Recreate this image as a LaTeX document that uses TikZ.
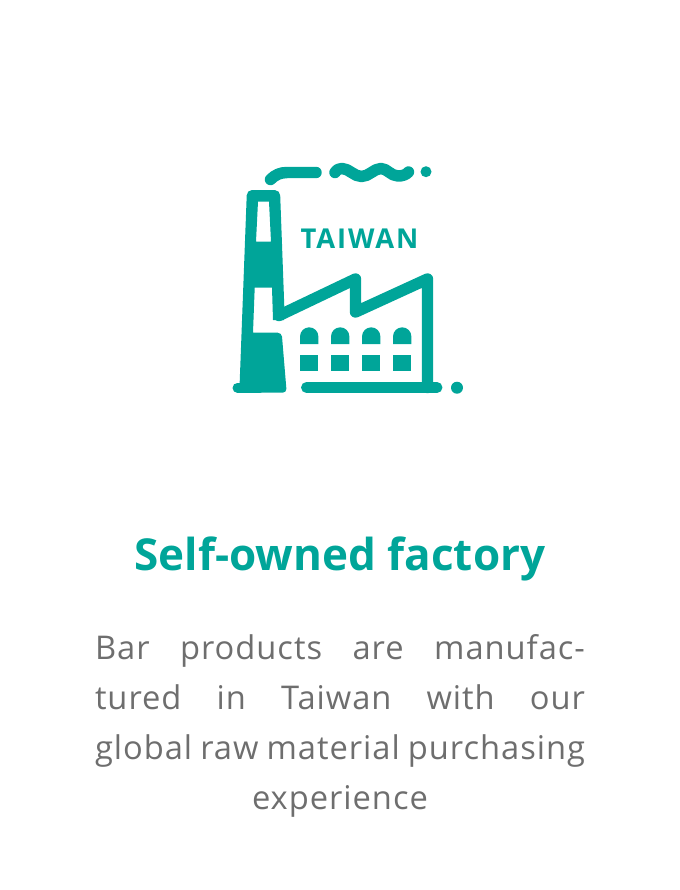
\documentclass[tikz,border=0pt]{standalone}
\usepackage{fontspec}
\usepackage{xcolor}
\setmainfont{Open Sans}
\newfontfamily\bodyfont[LetterSpace=3]{Open Sans}
\newfontfamily\badgefont[LetterSpace=7]{Open Sans}
\definecolor{factoryteal}{HTML}{00A599}
\definecolor{bodygray}{HTML}{6E6E6E}
\begin{document}
\begin{tikzpicture}[
    x=0.75pt,
    y=-0.75pt,
    solid/.style={fill=factoryteal, draw=none},
    stroke/.style={draw=factoryteal, line width=8.6pt, line cap=round, line join=round},
    label/.style={inner sep=0pt, text=factoryteal, font=\bfseries}
]
\useasboundingbox (0,0) rectangle (680,890);

% chimney
\fill[solid, even odd rule]
    (246.7,196) [rounded corners=4pt] -- (246.7,190) -- (280,190) [sharp corners] -- (284.3,306.7) -- (284,320) -- (273,320)
    -- (272,287.7) -- (254.7,287.7) -- (253,332.7) [rounded corners=3pt] -- (281.7,332.7) -- (286.7,392.7) [sharp corners] -- (239.3,392.7) -- cycle
    (258,201.7) -- (269,201.7) -- (271,241.7) -- (256,241.7) -- cycle;
\draw[stroke, line width=7.5pt] (237.5,387.7) -- (260,387.7);

% roof and wall
\draw[stroke] (279,315.5) -- (355.5,279) -- (355.5,312) -- (427.5,279) -- (427.5,387.5);
\draw[stroke, line width=8.2pt] (306.5,387.5) -- (437,387.5);
\fill[solid] (457,387.7) circle (6);

% windows
\foreach \xpos in {300,331,362,393} {
    \fill[solid] (\xpos,344) -- (\xpos,336.5) arc[start angle=180, end angle=360, radius=9.2] -- (\xpos+18.4,344) -- cycle;
    \fill[solid] (\xpos,355) rectangle (\xpos+18.4,371.3);
}

% smoke
\draw[stroke] (270.5,179.5) .. controls (275,175) and (280,172.5) .. (287,172.5) -- (316,172.5);
\draw[stroke] (335,172.5) .. controls (337,169.5) and (339,168.5) .. (342,168.5)
    .. controls (349,168.5) and (354,176.5) .. (361.5,176.5)
    .. controls (369,176.5) and (374,168.5) .. (381,168.5)
    .. controls (387,168.5) and (391,176) .. (398,176)
    .. controls (402,176) and (406,175) .. (408.5,172);
\fill[solid] (426,171.7) circle (5.5);

\node[label, font=\bfseries\badgefont\fontsize{20.5}{24}\selectfont] (taiwan) at (359.5,238.5) {TAIWAN};
\node[label, font=\bfseries\fontsize{33}{40}\selectfont] (title) at (340,559) {Self-owned factory};
\node[inner sep=0pt, text width=367.5pt, text=bodygray, align=justify, font=\bodyfont\fontsize{24.5}{37.5}\selectfont] (body) at (340,726) {\parfillskip=0pt
    Bar products are manufac-\linebreak
    tured in Taiwan with our\linebreak
    global raw material purchasing\linebreak
    \hspace*{\fill}experience\hspace*{\fill}};
\end{tikzpicture}
\end{document}
